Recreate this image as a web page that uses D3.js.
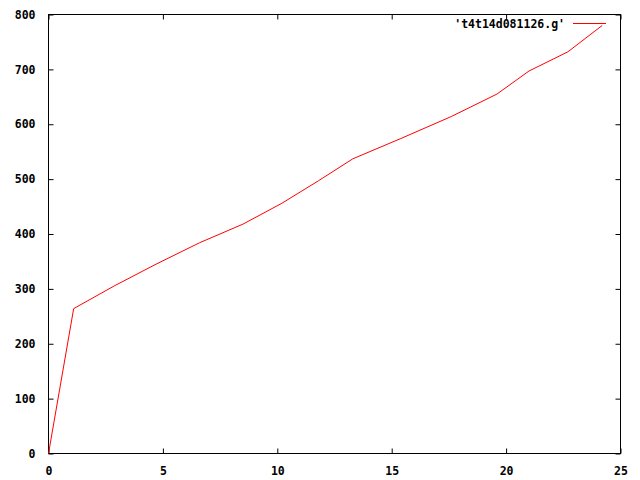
<!DOCTYPE html>
<html>
<head>
<meta charset="utf-8">
<script src="https://d3js.org/d3.v7.min.js"></script>
<style>
  body { margin: 0; background: #fff; }
  text { font-family: "DejaVu Sans Mono", monospace; font-weight: bold; font-size: 11.5px; }
</style>
</head>
<body>
<div id="chart"></div>
<script>
// data
var xValues = [0, 1.1, 2.9, 4.7, 6.6, 8.5, 10.2, 11.8, 13.3, 15.4, 17.6, 19.6, 21.0, 22.7, 24.2];
var yValues = [0, 264, 306, 345, 384, 418, 456, 497, 537, 574, 614, 655, 697, 732, 780];
var xTicks = [0, 5, 10, 15, 20, 25];
var yTicks = [0, 100, 200, 300, 400, 500, 600, 700, 800];
var seriesName = "'t4t14d081126.g'";

var width = 640;
var height = 480;

// plot box (note: "top" is taken by window.top, so prefix these)
var plotLeft = 48.5;
var plotRight = 620.5;
var plotTop = 14.5;
var plotBottom = 453.5;
var tickLen = 5;

var svg = d3
  .select("#chart")
  .append("svg")
  .attr("width", width)
  .attr("height", height);

var xScale = d3.scaleLinear().domain([0, 25]).range([plotLeft, plotRight]);
var yScale = d3.scaleLinear().domain([0, 800]).range([plotBottom, plotTop]);

// axes with mirrored ticks, gnuplot style
var xAxis = d3.axisBottom(xScale).tickValues(xTicks).tickSize(-tickLen).tickPadding(8 + tickLen).tickFormat(d3.format("d"));
var xAxisTop = d3.axisTop(xScale).tickValues(xTicks).tickSize(-tickLen).tickFormat("");
var yAxis = d3.axisLeft(yScale).tickValues(yTicks).tickSize(-tickLen).tickPadding(8 + tickLen).tickFormat(d3.format("d"));
var yAxisRight = d3.axisRight(yScale).tickValues(yTicks).tickSize(-tickLen).tickFormat("");

function styleAxis(g) {
  g.select(".domain").remove();
  g.selectAll("line").attr("stroke", "#000");
  g.selectAll("text").attr("fill", "#000").style("font-size", "11.5px");
}

svg.append("g").attr("transform", "translate(0," + plotBottom + ")").call(xAxis).call(styleAxis);
svg.append("g").attr("transform", "translate(0," + plotTop + ")").call(xAxisTop).call(styleAxis);
svg.append("g").attr("transform", "translate(" + plotLeft + ",0)").call(yAxis).call(styleAxis);
svg.append("g").attr("transform", "translate(" + plotRight + ",0)").call(yAxisRight).call(styleAxis);

// border
svg
  .append("rect")
  .attr("x", plotLeft)
  .attr("y", plotTop)
  .attr("width", plotRight - plotLeft)
  .attr("height", plotBottom - plotTop)
  .attr("fill", "none")
  .attr("stroke", "#000");

// the series
var points = xValues.map(function (x, i) {
  return [x, yValues[i]];
});

var line = d3
  .line()
  .x(function (d) { return xScale(d[0]); })
  .y(function (d) { return yScale(d[1]); });

svg
  .append("path")
  .datum(points)
  .attr("d", line)
  .attr("fill", "none")
  .attr("stroke", "#ff0000")
  .attr("stroke-width", 1);

// legend
var legend = svg.append("g").attr("transform", "translate(0,23.5)");

legend
  .append("text")
  .attr("x", 565)
  .attr("y", 4)
  .attr("text-anchor", "end")
  .text(seriesName);

legend
  .append("line")
  .attr("x1", 573)
  .attr("x2", 606)
  .attr("y1", 0)
  .attr("y2", 0)
  .attr("stroke", "#ff0000");
</script>
</body>
</html>
